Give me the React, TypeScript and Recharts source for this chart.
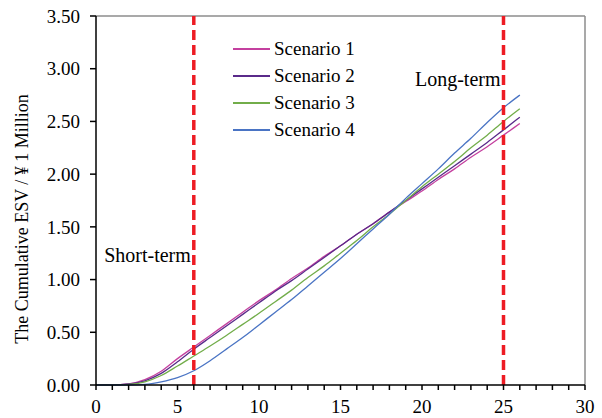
import React from 'react'
import {
  LineChart,
  Line,
  XAxis,
  YAxis,
  ReferenceLine,
  ReferenceDot,
  Legend
} from 'recharts'

const years = [0, 1, 2, 3, 4, 5, 6, 7, 8, 9, 10, 11, 12, 13, 14, 15, 16, 17, 18, 19, 20, 21, 22, 23, 24, 25, 26]
const scenario1 = [0, 0, 0.01, 0.05, 0.13, 0.25, 0.36, 0.47, 0.58, 0.69, 0.8, 0.9, 1.01, 1.11, 1.22, 1.32, 1.43, 1.53, 1.64, 1.74, 1.84, 1.95, 2.05, 2.16, 2.26, 2.37, 2.48]
const scenario2 = [0, 0, 0.01, 0.04, 0.11, 0.22, 0.34, 0.45, 0.56, 0.67, 0.78, 0.89, 0.99, 1.1, 1.21, 1.32, 1.43, 1.53, 1.64, 1.75, 1.86, 1.97, 2.08, 2.19, 2.3, 2.42, 2.54]
const scenario3 = [0, 0, 0.005, 0.03, 0.09, 0.18, 0.275, 0.37, 0.47, 0.575, 0.68, 0.79, 0.9, 1.02, 1.13, 1.25, 1.37, 1.5, 1.62, 1.75, 1.88, 2.0, 2.12, 2.25, 2.37, 2.5, 2.62]
const scenario4 = [0, 0, 0, 0.005, 0.03, 0.07, 0.135, 0.23, 0.34, 0.45, 0.57, 0.69, 0.81, 0.94, 1.07, 1.2, 1.34, 1.48, 1.62, 1.77, 1.91, 2.05, 2.2, 2.34, 2.49, 2.63, 2.75]

const xTicks = [0, 1, 2, 3, 4, 5, 6, 7, 8, 9, 10, 11, 12, 13, 14, 15, 16, 17, 18, 19, 20, 21, 22, 23, 24, 25, 26, 27, 28, 29, 30]
const xLabels = [0, 5, 10, 15, 20, 25, 30]
const yTicks = [0, 0.5, 1, 1.5, 2, 2.5, 3, 3.5]

const shortTermYear = 6
const longTermYear = 25

const data = years.map((t, i) => ({
  t,
  s1: scenario1[i],
  s2: scenario2[i],
  s3: scenario3[i],
  s4: scenario4[i]
}))

const FONT = '"Liberation Serif", "Times New Roman", serif'
const RED = '#ed1c24'

function ScenarioLegend({ payload }: any) {
  return (
    <div style={{ fontFamily: FONT, fontSize: 19, color: '#000' }}>
      {(payload || []).map((p: any) => (
        <div key={p.value} style={{ display: 'flex', alignItems: 'center', height: 27 }}>
          <span style={{ display: 'inline-block', width: 37, height: 2, background: p.color, marginRight: 4 }} />
          <span>{p.value}</span>
        </div>
      ))}
    </div>
  )
}

export default function App() {
  return (
    <div style={{ position: 'absolute', left: 0, top: 0, background: '#fff' }}>
      <LineChart width={602} height={418} data={data} margin={{ top: 16, right: 17, bottom: 0, left: 0 }}>
        <XAxis
          dataKey="t"
          type="number"
          domain={[0, 30]}
          ticks={xTicks}
          interval={0}
          tickFormatter={(v: number) => (xLabels.includes(v) ? String(v) : '')}
          height={33}
          tickSize={5}
          tickMargin={10}
          stroke="#000"
          strokeWidth={1.5}
          tick={{ fill: '#000', fontSize: 19, fontFamily: FONT }}
        />
        <YAxis
          type="number"
          domain={[0, 3.5]}
          ticks={yTicks}
          interval={0}
          tickFormatter={(v: number) => v.toFixed(2)}
          width={96}
          tickSize={6}
          tickMargin={10}
          stroke="#000"
          strokeWidth={1.5}
          tick={{ fill: '#000', fontSize: 19, fontFamily: FONT }}
          label={{
            content: () => (
              <text
                transform="translate(28,219) rotate(-90)"
                textAnchor="middle"
                fontSize={18}
                fontFamily={FONT}
                fill="#000"
              >
                The Cumulative ESV / ¥ 1 Million
              </text>
            )
          }}
        />
        <ReferenceLine y={3.5} stroke="#8c8c8c" strokeWidth={1.5} />
        <ReferenceLine x={30} stroke="#8c8c8c" strokeWidth={1.5} />
        <Legend
          content={<ScenarioLegend />}
          layout="horizontal"
          align="center"
          verticalAlign="middle"
          wrapperStyle={{ left: 233, top: 35, width: 'auto' }}
        />
        <Line name="Scenario 1" type="monotone" dataKey="s1" stroke="#c4409f" strokeWidth={1.3} dot={false} isAnimationActive={false} />
        <Line name="Scenario 2" type="monotone" dataKey="s2" stroke="#5a2a8a" strokeWidth={1.3} dot={false} isAnimationActive={false} />
        <Line name="Scenario 3" type="monotone" dataKey="s3" stroke="#72ad4a" strokeWidth={1.3} dot={false} isAnimationActive={false} />
        <Line name="Scenario 4" type="monotone" dataKey="s4" stroke="#4a74c4" strokeWidth={1.3} dot={false} isAnimationActive={false} />
        <ReferenceLine x={shortTermYear} stroke={RED} strokeWidth={3.5} strokeDasharray="10 5" />
        <ReferenceLine x={longTermYear} stroke={RED} strokeWidth={3.5} strokeDasharray="10 5" />
        <ReferenceDot
          x={shortTermYear}
          y={1.233}
          r={0}
          fill="none"
          stroke="none"
          label={{ value: 'Short-term', position: 'left', offset: 3, fontSize: 20, fontFamily: FONT, fill: '#000' }}
        />
        <ReferenceDot
          x={longTermYear}
          y={2.9}
          r={0}
          fill="none"
          stroke="none"
          label={{ value: 'Long-term', position: 'left', offset: 3, fontSize: 20, fontFamily: FONT, fill: '#000' }}
        />
      </LineChart>
    </div>
  )
}
